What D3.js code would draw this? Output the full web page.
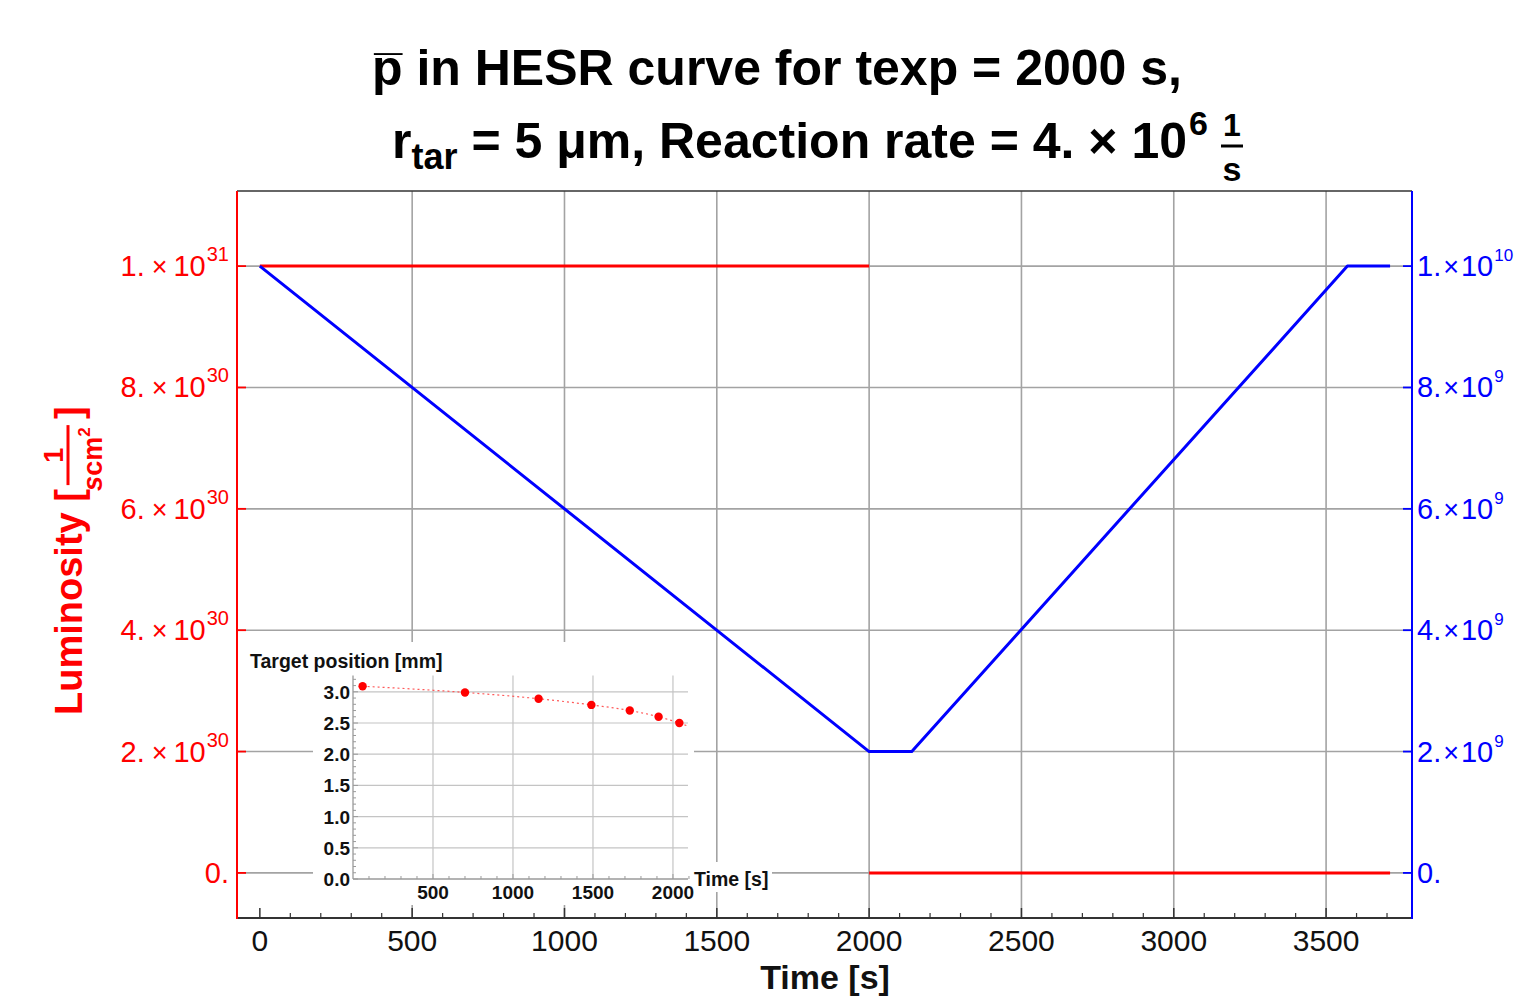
<!DOCTYPE html>
<html><head><meta charset="utf-8">
<script src="https://cdn.jsdelivr.net/npm/d3@7"></script>
<style>body{margin:0;background:#fff;overflow:hidden} svg{display:block} text{font-family:"Liberation Sans",Arial,sans-serif}</style>
</head><body><svg id="c" width="1521" height="998"></svg>
<script>
// ---- data ----
const lumTime = [0, 2000, 2000, 3710];
const lumValue = [1e31, 1e31, 0, 0];
const lumSegment = [0, 0, 1, 1];
const pbarTime = [0, 2000, 2140, 3570, 3710];
const pbarValue = [1e10, 2e9, 2e9, 1e10, 1e10];
const xTicks = [0, 500, 1000, 1500, 2000, 2500, 3000, 3500];
const xMinorTicks = [100,200,300,400,600,700,800,900,1100,1200,1300,1400,1600,1700,1800,1900,2100,2200,2300,2400,2600,2700,2800,2900,3100,3200,3300,3400,3600,3700];
const lumTicks = [0, 2e30, 4e30, 6e30, 8e30, 1e31];
const lumTickMant = ["0.", "2.", "4.", "6.", "8.", "1."];
const lumTickExp = ["", "30", "30", "30", "30", "31"];
const pbarTicks = [0, 2e9, 4e9, 6e9, 8e9, 1e10];
const pbarTickMant = ["0.", "2.", "4.", "6.", "8.", "1."];
const pbarTickExp = ["", "9", "9", "9", "9", "10"];
// inset
const insetTime = [60, 700, 1160, 1490, 1730, 1910, 2040];
const insetPos = [3.09, 2.99, 2.89, 2.79, 2.70, 2.60, 2.50];
const fitTime = [60, 700, 1160, 1490, 1730, 1910, 2040, 2094];
const fitPos = [3.09, 2.99, 2.89, 2.79, 2.70, 2.60, 2.50, 2.45];
const insetXTicks = [500, 1000, 1500, 2000];
const insetXMinor = [100,200,300,400,600,700,800,900,1100,1200,1300,1400,1600,1700,1800,1900,2100];
const insetYTicks = [0, 0.5, 1.0, 1.5, 2.0, 2.5, 3.0];
const insetYLabels = ["0.0","0.5","1.0","1.5","2.0","2.5","3.0"];
const insetYMinor = [0.1,0.2,0.3,0.4,0.6,0.7,0.8,0.9,1.1,1.2,1.3,1.4,1.6,1.7,1.8,1.9,2.1,2.2,2.3,2.4,2.6,2.7,2.8,2.9,3.1,3.2];

// ---- layout ----
const svg = d3.select("#c");
const L = 237, R = 1412, T = 191, B = 918;
const RED = "#ff0000", BLUE = "#0000ff", GRID = "#a3a3a3";
const x = d3.scaleLinear().domain([-75, 3782]).range([L, R]);
const yL = d3.scaleLinear().domain([-0.0743e31, 1.1238e31]).range([B, T]);
const yR = d3.scaleLinear().domain([-0.0743e10, 1.1238e10]).range([B, T]);

// gridlines
const g = svg.append("g");
g.selectAll(".hg").data(lumTicks).enter().append("line")
  .attr("x1", L).attr("x2", R).attr("y1", d => yL(d)).attr("y2", d => yL(d))
  .attr("stroke", GRID).attr("stroke-width", 1.6);
g.selectAll(".vg").data(xTicks.filter(d => d > 0)).enter().append("line")
  .attr("x1", d => x(d)).attr("x2", d => x(d)).attr("y1", T).attr("y2", B)
  .attr("stroke", GRID).attr("stroke-width", 1.6);

// data lines
const lumPts = lumTime.map((t, i) => ({t, v: lumValue[i], s: lumSegment[i]}));
const segs = d3.groups(lumPts, d => d.s).map(d => d[1]);
const lineL = d3.line().x(d => x(d.t)).y(d => yL(d.v));
svg.selectAll(".lum").data(segs).enter().append("path")
  .attr("d", lineL).attr("fill", "none").attr("stroke", RED).attr("stroke-width", 3);
const pbarPts = pbarTime.map((t, i) => ({t, v: pbarValue[i]}));
svg.append("path").datum(pbarPts)
  .attr("d", d3.line().x(d => x(d.t)).y(d => yR(d.v)))
  .attr("fill", "none").attr("stroke", BLUE).attr("stroke-width", 3).attr("stroke-linejoin", "round");

// frame
svg.append("line").attr("x1", L).attr("x2", R).attr("y1", T).attr("y2", T).attr("stroke", "#333").attr("stroke-width", 1.5);
svg.append("line").attr("x1", L).attr("x2", R).attr("y1", B).attr("y2", B).attr("stroke", "#333").attr("stroke-width", 1.8);
svg.append("line").attr("x1", L).attr("x2", L).attr("y1", T).attr("y2", B + 1).attr("stroke", RED).attr("stroke-width", 2);
svg.append("line").attr("x1", R).attr("x2", R).attr("y1", T).attr("y2", B + 1).attr("stroke", BLUE).attr("stroke-width", 2);

// x ticks
svg.selectAll(".xt").data(xTicks).enter().append("line")
  .attr("x1", d => x(d)).attr("x2", d => x(d)).attr("y1", B).attr("y2", B - 10)
  .attr("stroke", "#333").attr("stroke-width", 1.5);
svg.selectAll(".xmt").data(xMinorTicks).enter().append("line")
  .attr("x1", d => x(d)).attr("x2", d => x(d)).attr("y1", B).attr("y2", B - 5)
  .attr("stroke", "#333").attr("stroke-width", 1.2);
svg.selectAll(".xl").data(xTicks).enter().append("text")
  .attr("x", d => x(d)).attr("y", 951).attr("text-anchor", "middle")
  .attr("font-size", 30).attr("fill", "#111").text(d => d);
svg.append("text").attr("x", 825).attr("y", 989).attr("text-anchor", "middle")
  .attr("font-size", 34).attr("font-weight", "bold").attr("fill", "#111").text("Time [s]");

// y ticks
svg.selectAll(".ylt").data(lumTicks).enter().append("line")
  .attr("x1", L).attr("x2", L + 9).attr("y1", d => yL(d)).attr("y2", d => yL(d))
  .attr("stroke", RED).attr("stroke-width", 1.8);
svg.selectAll(".yrt").data(pbarTicks).enter().append("line")
  .attr("x1", R - 9).attr("x2", R).attr("y1", d => yR(d)).attr("y2", d => yR(d))
  .attr("stroke", BLUE).attr("stroke-width", 1.8);

function sciLabel(sel, mant, exp, gap1, gap2, supSize) {
  sel.append("tspan").text(mant);
  if (exp) {
    sel.append("tspan").attr("dx", gap1).attr("font-size", 27).text("\u00d7");
    sel.append("tspan").attr("dx", gap2).text("10");
    sel.append("tspan").attr("dx", 1).attr("dy", -15).attr("font-size", supSize).text(exp);
  }
}
lumTicks.forEach((d, i) => {
  const t = svg.append("text").attr("x", 229).attr("y", yL(d) + 10).attr("text-anchor", "end")
    .attr("font-size", 29).attr("fill", RED);
  sciLabel(t, lumTickMant[i], lumTickExp[i], 7, 6, 20);
});
pbarTicks.forEach((d, i) => {
  const t = svg.append("text").attr("x", 1417).attr("y", yR(d) + 10).attr("text-anchor", "start")
    .attr("font-size", 29).attr("fill", BLUE);
  sciLabel(t, pbarTickMant[i], pbarTickExp[i], 2, 2, 17);
});

// y axis title (rotated)
const yt = svg.append("g").attr("transform", "translate(82,715) rotate(-90)").attr("fill", RED).attr("font-weight", "bold");
const lumTxt = yt.append("text").attr("x", 0).attr("y", 0).attr("font-size", 38).text("Luminosity [");
const lw = lumTxt.node().getComputedTextLength();
const fx0 = lw + 4, fw = 60;
yt.append("text").attr("x", fx0 + fw / 2).attr("y", -19).attr("text-anchor", "middle").attr("font-size", 27).text("1");
yt.append("line").attr("x1", fx0).attr("x2", fx0 + fw).attr("y1", -14).attr("y2", -14).attr("stroke", RED).attr("stroke-width", 3);
const den = yt.append("text").attr("x", fx0 + fw / 2 - 4).attr("y", 20).attr("text-anchor", "middle").attr("font-size", 27);
den.append("tspan").attr("font-style", "italic").text("s");
den.append("tspan").text("cm");
den.append("tspan").attr("dy", -12).attr("font-size", 17).text("2");
yt.append("text").attr("x", fx0 + fw + 6).attr("y", 0).attr("font-size", 38).text("]");

// title
svg.append("text").attr("x", 777).attr("y", 85).attr("text-anchor", "middle")
  .attr("font-size", 50).attr("font-weight", "bold").attr("fill", "#000")
  .text("p\u0305 in HESR curve for texp = 2000 s,");
const t2 = svg.append("text").attr("x", 392).attr("y", 158).attr("font-size", 50).attr("font-weight", "bold").attr("fill", "#000");
t2.append("tspan").text("r");
t2.append("tspan").attr("dy", 11).attr("font-size", 36).text("tar");
t2.append("tspan").attr("dy", -11).text(" = 5 \u03bcm, Reaction rate = 4. \u00d7 10");
t2.append("tspan").attr("dy", -23).attr("dx", 2).attr("font-size", 34).text("6");
const t2w = t2.node().getComputedTextLength();
const fcx = 392 + t2w + 26;
svg.append("text").attr("x", fcx).attr("y", 136).attr("text-anchor", "middle").attr("font-size", 32).attr("font-weight", "bold").text("1");
svg.append("line").attr("x1", fcx - 11).attr("x2", fcx + 11).attr("y1", 146).attr("y2", 146).attr("stroke", "#000").attr("stroke-width", 3);
svg.append("text").attr("x", fcx).attr("y", 181).attr("text-anchor", "middle").attr("font-size", 34).attr("font-weight", "bold").text("s");

// ---- inset ----
const ins = svg.append("g");
ins.append("rect").attr("x", 313).attr("y", 642).attr("width", 381).attr("height", 263).attr("fill", "#fff");
ins.append("rect").attr("x", 690).attr("y", 862).attr("width", 82).attr("height", 30).attr("fill", "#fff");
const ix = d3.scaleLinear().domain([0, 2094]).range([353, 688]);
const iy = d3.scaleLinear().domain([0, 3.26]).range([879, 675.6]);
const IGRID = "#c4c4c4";
ins.selectAll(".ihg").data(insetYTicks.filter(d => d > 0)).enter().append("line")
  .attr("x1", ix(0)).attr("x2", ix(2094)).attr("y1", d => iy(d)).attr("y2", d => iy(d))
  .attr("stroke", IGRID).attr("stroke-width", 1.2);
ins.selectAll(".ivg").data(insetXTicks).enter().append("line")
  .attr("x1", d => ix(d)).attr("x2", d => ix(d)).attr("y1", iy(0)).attr("y2", iy(3.26))
  .attr("stroke", IGRID).attr("stroke-width", 1.2);
// axes
const IAX = "#9a9a9a";
ins.append("line").attr("x1", ix(0)).attr("x2", ix(2094)).attr("y1", iy(0)).attr("y2", iy(0)).attr("stroke", IAX).attr("stroke-width", 1.3);
ins.append("line").attr("x1", ix(0)).attr("x2", ix(0)).attr("y1", iy(0)).attr("y2", iy(3.26)).attr("stroke", IAX).attr("stroke-width", 1.3);
ins.selectAll(".ixt").data(insetXTicks).enter().append("line")
  .attr("x1", d => ix(d)).attr("x2", d => ix(d)).attr("y1", iy(0)).attr("y2", iy(0) - 5).attr("stroke", IAX);
ins.selectAll(".ixm").data(insetXMinor).enter().append("line")
  .attr("x1", d => ix(d)).attr("x2", d => ix(d)).attr("y1", iy(0)).attr("y2", iy(0) - 3).attr("stroke", IAX);
ins.selectAll(".iyt").data(insetYTicks).enter().append("line")
  .attr("x1", ix(0)).attr("x2", ix(0) + 5).attr("y1", d => iy(d)).attr("y2", d => iy(d)).attr("stroke", IAX);
ins.selectAll(".iym").data(insetYMinor).enter().append("line")
  .attr("x1", ix(0)).attr("x2", ix(0) + 3).attr("y1", d => iy(d)).attr("y2", d => iy(d)).attr("stroke", IAX);
// labels
ins.selectAll(".ixl").data(insetXTicks).enter().append("text")
  .attr("x", d => ix(d)).attr("y", 899).attr("text-anchor", "middle")
  .attr("font-size", 19).attr("font-weight", "bold").attr("fill", "#111").text(d => d);
ins.selectAll(".iyl").data(insetYTicks).enter().append("text")
  .attr("x", 350).attr("y", d => iy(d) + 7).attr("text-anchor", "end")
  .attr("font-size", 19).attr("font-weight", "bold").attr("fill", "#111").text((d, i) => insetYLabels[i]);
ins.append("text").attr("x", 250).attr("y", 668).attr("font-size", 19.5).attr("font-weight", "bold").attr("fill", "#111").text("Target position [mm]");
ins.append("text").attr("x", 694).attr("y", 886).attr("font-size", 19.5).attr("font-weight", "bold").attr("fill", "#111").text("Time [s]");
// fit + points
const fitPts = fitTime.map((t, i) => ({t, v: fitPos[i]}));
ins.append("path").datum(fitPts)
  .attr("d", d3.line().x(d => ix(d.t)).y(d => iy(d.v)).curve(d3.curveMonotoneX))
  .attr("fill", "none").attr("stroke", "#ff5a5a").attr("stroke-width", 1.2).attr("stroke-dasharray", "2,3");
ins.selectAll(".pt").data(insetTime.map((t, i) => ({t, v: insetPos[i]}))).enter().append("circle")
  .attr("cx", d => ix(d.t)).attr("cy", d => iy(d.v)).attr("r", 4.2).attr("fill", RED);
</script></body></html>
